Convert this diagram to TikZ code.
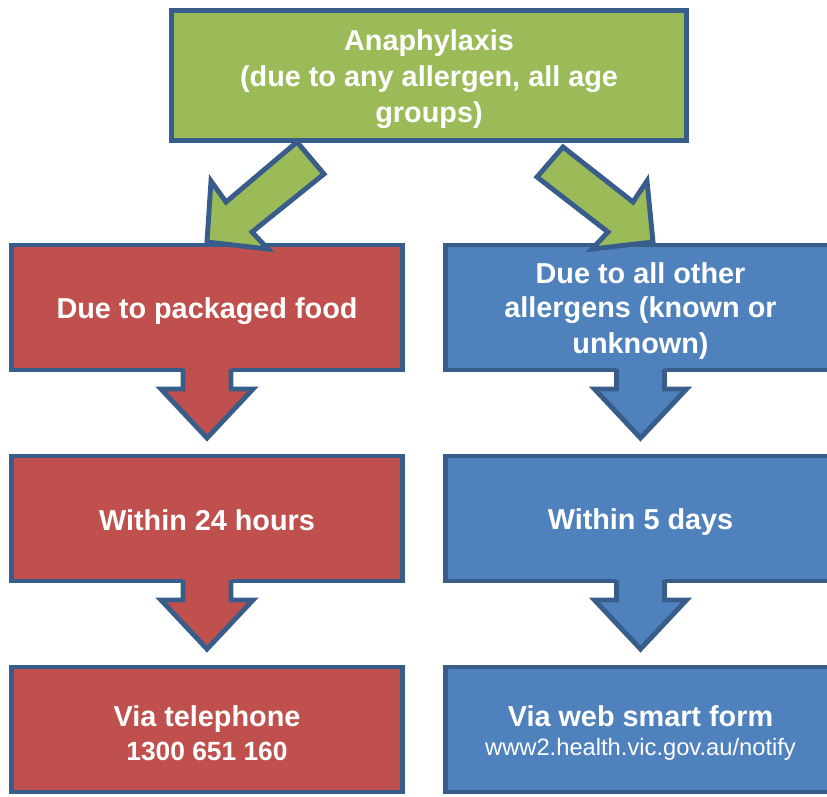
\documentclass[tikz,border=0pt]{standalone}
\usepackage{fontspec}
\setmainfont{Liberation Sans}
\usetikzlibrary{calc}

\definecolor{leafgreen}{HTML}{9BBB59}
\definecolor{brickred}{HTML}{C0504D}
\definecolor{steelblue}{HTML}{4F81BD}
\definecolor{edgeblue}{HTML}{385D8A}

% one line of box text, as tall as the line spacing
\newcommand{\boxstrut}{\rule[-2.8pt]{0pt}{19pt}}

\tikzset{
	box/.style = {draw = edgeblue, line width = 2.8pt, text = white, align = center, inner sep = 0pt, outer sep = 0pt, font = \bfseries\fontsize{16.4}{19}\selectfont},
	outline/.style = {draw = edgeblue, line width = 2.8pt, line join = miter}
}

% block arrow hanging below a box: #1 box, #2 colour
\newcommand{\blockdown}[2]{
	\fill[#2] ($(#1.south)+(-24, -12)$) -- ($(#1.south)+(-24, 19)$) -- ($(#1.south)+(-46, 19)$) -- ($(#1.south)+(0, 68)$) -- ($(#1.south)+(46, 19)$) -- ($(#1.south)+(24, 19)$) -- ($(#1.south)+(24, -12)$) -- cycle;
	\draw[outline] ($(#1.south)+(-24, -1)$) -- ($(#1.south)+(-24, 19)$) -- ($(#1.south)+(-46, 19)$) -- ($(#1.south)+(0, 68)$) -- ($(#1.south)+(46, 19)$) -- ($(#1.south)+(24, 19)$) -- ($(#1.south)+(24, -1)$);
}

\begin{document}
\begin{tikzpicture}[x = 0.02cm, y = -0.02cm]
	\useasboundingbox (0, 0) rectangle (827, 796);
	\clip (0, 0) rectangle (827, 796);

	\node[box, fill = leafgreen, minimum width = 10.3cm, minimum height = 2.6cm] (top) at (429, 75.5) {\boxstrut Anaphylaxis\\\boxstrut (due to any allergen, all age\\\boxstrut groups)};

	\node[box, fill = brickred, minimum width = 7.82cm, minimum height = 2.5cm] (food) at (207, 307.5) {\boxstrut Due to packaged food};
	\node[box, fill = steelblue, minimum width = 7.8cm, minimum height = 2.5cm] (other) at (640.5, 307.5) {\boxstrut Due to all other\\\boxstrut allergens (known or\\\boxstrut unknown)};

	\node[box, fill = brickred, minimum width = 7.82cm, minimum height = 2.5cm] (hours) at (207, 518.5) {\boxstrut Within 24 hours};
	\node[box, fill = steelblue, minimum width = 7.8cm, minimum height = 2.5cm] (days) at (640.5, 518.5) {\boxstrut Within 5 days};

	\node[box, fill = brickred, minimum width = 7.82cm, minimum height = 2.5cm, text depth = 0pt] (phone) at (207, 729.5) {\boxstrut Via telephone\\[-1.4pt]\boxstrut{\fontsize{15}{18}\selectfont 1300 651 160}};
	\node[box, fill = steelblue, minimum width = 7.8cm, minimum height = 2.5cm] (web) at (640.5, 729.5) {\boxstrut Via web smart form\\[-2.6pt]\boxstrut{\mdseries\fontsize{13.5}{16}\selectfont www2.health.vic.gov.au/notify}};

	% slanted arrows out of the top box
	\draw[outline, fill = leafgreen] ($(top.south)+(-132, 1.5)$) -- ($(top.south)+(-105, 33.5)$) -- ($(food.north)+(45, -13)$) -- ($(food.north)+(61, 4)$) -- ($(food.north)+(0, -3)$) -- ($(food.north)+(4, -64)$) -- ($(food.north)+(19, -43)$) -- cycle;
	\draw[outline, fill = leafgreen] ($(top.south)+(134, 6.5)$) -- ($(other.north)+(-7.5, -43)$) -- ($(other.north)+(6.5, -64)$) -- ($(other.north)+(12.5, -3)$) -- ($(other.north)+(-48.5, 4)$) -- ($(other.north)+(-32.5, -13)$) -- ($(top.south)+(108, 36.5)$) -- cycle;

	\blockdown{food}{brickred}
	\blockdown{other}{steelblue}
	\blockdown{hours}{brickred}
	\blockdown{days}{steelblue}
\end{tikzpicture}
\end{document}
